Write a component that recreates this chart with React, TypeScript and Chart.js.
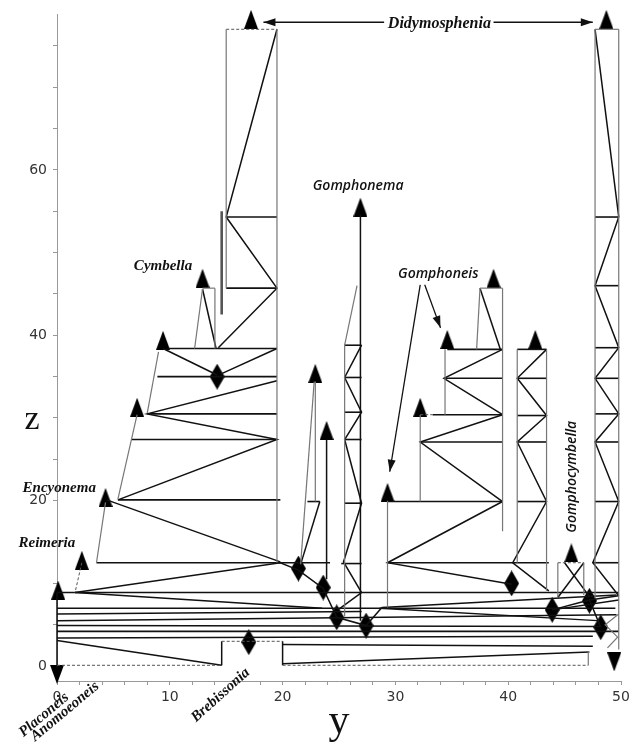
import React, { useEffect, useRef } from 'react';
import { Chart, registerables } from 'chart.js';

Chart.register(...registerables);

type P = [number, number];

// ---- axis ticks ----
const xLabelTicks = [0, 10, 20, 30, 40, 50];
const zLabelTicks = [0, 20, 40, 60];

// ---- horizontal bars: [z, xStart, xEnd] ----
const horizontalBars: [number, number, number][] = [
  // left Didymosphenia tower and Cymbella / Encyonema side
  [54.3, 15.0, 19.5], [45.7, 15.0, 19.5], [38.4, 9.8, 19.5], [35.0, 8.9, 19.5],
  [30.5, 8.0, 19.5], [27.4, 6.6, 19.5], [20.1, 5.4, 19.8], [12.5, 3.5, 24.2],
  // Gomphonema tower
  [38.8, 25.5, 27.0], [34.9, 25.5, 27.0], [30.7, 25.5, 27.0], [27.4, 25.5, 27.0],
  [19.7, 25.5, 27.0], [12.4, 25.2, 27.0], [19.9, 22.2, 23.3],
  // Gomphoneis
  [19.9, 29.3, 39.5], [12.5, 29.3, 43.6], [30.4, 33.3, 39.5], [27.1, 32.2, 39.5],
  [38.3, 34.6, 39.5], [34.8, 34.3, 39.5],
  // tower at 41-43
  [38.3, 40.8, 43.4], [34.8, 40.8, 43.4], [30.3, 40.8, 43.4], [27.1, 40.8, 43.4], [19.9, 40.8, 43.4],
  // right Didymosphenia tower
  [54.3, 47.7, 49.8], [46.0, 47.7, 49.8], [38.5, 47.7, 49.8], [34.8, 47.7, 49.8],
  [30.5, 47.7, 49.8], [27.1, 47.7, 49.8], [19.9, 47.7, 49.8], [12.5, 47.5, 49.8],
  // bottom bundle
  [8.9, 0, 49.8], [7.0, 0, 49.5], [4.2, 0, 49.8],
];

// ---- black polylines ----
const blackPaths: P[][] = [
  [[19.5, 77], [15.0, 54.3], [19.5, 45.7], [14.3, 38.5]],
  [[9.4, 38.4], [14.2, 35.2]],
  [[14.5, 35.3], [19.5, 38.4]],
  [[19.5, 34.5], [8.0, 30.5], [19.5, 27.4], [5.4, 20.1]],
  [[4.4, 20.1], [19.8, 12.6]],
  [[12.9, 45.6], [14.1, 38.4]],
  [[1.6, 8.9], [19.8, 12.5], [21.4, 11.6]],
  [[1.6, 8.9], [23.5, 7.0]],
  [[21.4, 11.6], [23.6, 9.4], [24.8, 5.9], [27.4, 4.9], [28.8, 7.1]],
  [[27.0, 38.8], [25.5, 34.9], [27.0, 30.7], [25.5, 27.4], [27.0, 19.7], [25.4, 12.6], [27.0, 8.9], [24.9, 6.8]],
  [[26.9, 54.6], [26.9, 5.5]],
  [[23.3, 19.9], [21.6, 12.3]],
  [[23.9, 27.4], [23.9, 10.5]],
  [[39.5, 19.9], [29.3, 12.5], [40.3, 9.9]],
  [[28.8, 7.1], [49.6, 8.6]],
  [[39.5, 30.4], [32.2, 27.1], [39.5, 19.9]],
  [[39.5, 38.3], [34.3, 34.8], [39.5, 30.4]],
  [[37.5, 45.7], [39.3, 38.3]],
  [[43.4, 38.3], [40.8, 34.8], [43.4, 30.3], [40.8, 27.1], [43.4, 19.9], [40.4, 12.5], [43.6, 9.1]],
  [[47.7, 77], [49.8, 54.3], [47.7, 46.0], [49.8, 38.5], [47.7, 34.8], [49.8, 30.5], [47.7, 27.1], [49.8, 19.9], [47.5, 12.5], [49.8, 8.5]],
  [[44.4, 8.3], [46.7, 12.5]],
  [[45.0, 12.5], [47.2, 8.4]],
  [[43.9, 6.8], [47.2, 8.0], [48.2, 4.7]],
  [[47.2, 8.0], [49.8, 8.5]],
  [[43.9, 6.8], [49.8, 8.0]],
  [[0, 5.5], [49.6, 6.2]],
  [[0, 4.9], [48.2, 4.8]],
  [[0, 3.4], [47.5, 3.6]],
  [[0, 3.1], [14.6, 0.1]],
  [[20, 2.6], [47.5, 2.4]],
  [[20, 0.3], [47.2, 1.7]],
  [[0, 6.3], [27.0, 6.6]],
  [[28.6, 7.0], [47.9, 5.5]],
  [[14.6, 0.1], [14.6, 3.0]],
  [[20, 3.0], [20, 0.1]],
  [[0, 8.9], [0, -0.2]],
];

// ---- thin grey polylines ----
const grayPaths: P[][] = [
  [[15.0, 77], [15.0, 45.7]],
  [[19.5, 77], [19.5, 12.5]],
  [[12.9, 45.6], [12.2, 38.4]],
  [[14.0, 45.7], [14.0, 38.4]],
  [[12.9, 45.7], [14.0, 45.7]],
  [[9.0, 38.0], [8.0, 30.6]],
  [[7.1, 30.4], [5.4, 20.2]],
  [[4.3, 19.8], [3.5, 12.5]],
  [[26.6, 46.0], [25.5, 38.8]],
  [[25.5, 38.8], [25.5, 6.0]],
  [[22.9, 34.4], [22.9, 19.9]],
  [[22.8, 34.4], [21.6, 12.3]],
  [[29.3, 20.0], [29.3, 7.1]],
  [[32.2, 30.4], [32.2, 19.9]],
  [[34.4, 38.3], [34.4, 30.4]],
  [[37.5, 45.7], [37.2, 38.3]],
  [[37.5, 45.7], [39.5, 45.7]],
  [[39.5, 45.7], [39.5, 16.3]],
  [[40.8, 38.3], [40.8, 12.5]],
  [[43.4, 38.3], [43.4, 9.1]],
  [[47.7, 77], [47.7, 8.2]],
  [[49.8, 77], [49.8, 2.0]],
  [[47.7, 77], [49.8, 77]],
  [[44.4, 12.5], [44.4, 8.3]],
  [[46.7, 12.5], [46.7, 8.6]],
  [[49.8, 6.3], [48.6, 5.0], [49.7, 3.5], [48.8, 2.2]],
  [[47.1, 0.1], [47.1, 1.8]],
];

const thickGrayPaths: P[][] = [
  [[14.6, 55.0], [14.6, 42.5]],
];

// ---- dashed polylines ----
const dashedPaths: P[][] = [
  [[15.0, 77], [19.5, 77]],
  [[2.2, 12.5], [1.6, 8.9]],
  [[0, 0.1], [14.6, 0.1]],
  [[14.6, 3.0], [20, 3.0]],
  [[20, 0.1], [47.1, 0.1]],
  [[44.4, 12.5], [46.7, 12.5]],
  [[32.2, 30.4], [33.3, 30.4]],
];

// ---- arrows (head at last point) ----
const arrowPaths: P[][] = [
  [[29.0, 77.85], [18.3, 77.85]],
  [[38.7, 77.85], [47.5, 77.85]],
  [[32.2, 46.1], [29.5, 23.5]],
  [[32.6, 46.1], [34.0, 40.9]],
];

// ---- markers ----
const upTriangles: P[] = [
  [17.2, 78.2], [48.7, 78.2], [12.9, 46.9], [9.4, 39.4], [7.1, 31.3], [4.3, 20.4],
  [2.2, 12.8], [0.1, 9.2], [26.9, 55.5], [22.9, 35.4], [23.9, 28.5], [29.3, 21.0],
  [32.2, 31.3], [34.6, 39.5], [38.7, 46.9], [42.4, 39.5], [45.6, 13.7],
];
const downTriangles: P[] = [[0.0, -1.0], [49.4, 0.5]];
const diamonds: P[] = [
  [14.2, 35.0], [21.4, 11.8], [23.6, 9.5], [24.8, 5.9], [27.4, 4.9], [17.0, 2.9],
  [40.3, 10.0], [43.9, 6.8], [47.2, 7.9], [48.2, 4.7],
];

// ---- genus labels ----
const genusNames = ['Didymosphenia', 'Gomphonema', 'Cymbella', 'Gomphoneis', 'Encyonema', 'Reimeria', 'Gomphocymbella', 'Placoneis', 'Anomoeoneis', 'Brebissonia'];
const genusAnchors: P[] = [[33.9, 77.7], [26.7, 58.0], [9.4, 48.4], [33.8, 47.4], [0.2, 21.5], [-0.9, 14.9], [45.7, 22.9], [-1.15, -5.9], [0.7, -5.5], [14.5, -3.5]];
const genusAngles = [0, 0, 0, 0, 0, 0, -90, -40, -40, -42];
const genusSans = [false, true, false, true, false, false, true, false, false, false];

function makeShape(kind: 'up' | 'down' | 'diamond'): HTMLCanvasElement {
  const c = document.createElement('canvas');
  const w = kind === 'diamond' ? 15 : 14;
  const h = kind === 'diamond' ? 26 : 19;
  c.width = w;
  c.height = h;
  const g = c.getContext('2d')!;
  g.fillStyle = '#000';
  g.beginPath();
  if (kind === 'up') {
    g.moveTo(w / 2, 0); g.lineTo(w, h); g.lineTo(0, h);
  } else if (kind === 'down') {
    g.moveTo(0, 0); g.lineTo(w, 0); g.lineTo(w / 2, h);
  } else {
    g.moveTo(w / 2, 0); g.lineTo(w, h / 2); g.lineTo(w / 2, h); g.lineTo(0, h / 2);
  }
  g.closePath();
  g.fill();
  return c;
}

function lineSet(pts: P[], color: string, width: number, dash: number[] = []) {
  return {
    data: pts.map(([x, y]) => ({ x, y })),
    showLine: true,
    borderColor: color,
    borderWidth: width,
    borderDash: dash,
    pointRadius: 0,
    pointHoverRadius: 0,
    fill: false,
    tension: 0,
    clip: false,
  };
}

export default function App() {
  const ref = useRef<HTMLCanvasElement>(null);

  useEffect(() => {
    const canvas = ref.current!;
    const upImg = makeShape('up');
    const downImg = makeShape('down');
    const diaImg = makeShape('diamond');

    const datasets: any[] = [];
    grayPaths.forEach((p) => datasets.push(lineSet(p, '#777', 1.2)));
    thickGrayPaths.forEach((p) => datasets.push(lineSet(p, '#555', 2.6)));
    dashedPaths.forEach((p) => datasets.push(lineSet(p, '#555', 1, [3, 2])));
    horizontalBars.forEach(([z, a, b]) => datasets.push(lineSet([[a, z], [b, z]], '#111', 1.6)));
    blackPaths.forEach((p) => datasets.push(lineSet(p, '#111', 1.5)));
    arrowPaths.forEach((p) => datasets.push(lineSet(p, '#111', 1.3)));
    const markerSet = (pts: P[], img: HTMLCanvasElement) => ({
      data: pts.map(([x, y]) => ({ x, y })),
      showLine: false,
      pointStyle: img,
      pointRadius: 8,
      pointHoverRadius: 8,
      clip: false,
    });
    datasets.push(markerSet(upTriangles, upImg));
    datasets.push(markerSet(downTriangles, downImg));
    datasets.push(markerSet(diamonds, diaImg));

    const annotate = {
      id: 'annotate',
      afterDatasetsDraw(chart: any) {
        const { ctx, chartArea } = chart;
        const xs = chart.scales.x;
        const ys = chart.scales.y;
        ctx.save();
        // arrow heads
        ctx.fillStyle = '#111';
        arrowPaths.forEach((p) => {
          const a = p[p.length - 2];
          const b = p[p.length - 1];
          const x1 = xs.getPixelForValue(a[0]);
          const y1 = ys.getPixelForValue(a[1]);
          const x2 = xs.getPixelForValue(b[0]);
          const y2 = ys.getPixelForValue(b[1]);
          const ang = Math.atan2(y2 - y1, x2 - x1);
          ctx.save();
          ctx.translate(x2, y2);
          ctx.rotate(ang);
          ctx.beginPath();
          ctx.moveTo(0, 0);
          ctx.lineTo(-12, -4);
          ctx.lineTo(-12, 4);
          ctx.closePath();
          ctx.fill();
          ctx.restore();
        });
        // genus labels
        genusNames.forEach((name, i) => {
          const px = xs.getPixelForValue(genusAnchors[i][0]);
          const py = ys.getPixelForValue(genusAnchors[i][1]);
          ctx.save();
          ctx.translate(px, py);
          ctx.rotate((genusAngles[i] * Math.PI) / 180);
          ctx.font = genusSans[i]
            ? 'italic 600 14px "Open Sans"'
            : (i === 0 ? 'italic bold 16px "Liberation Serif"' : 'italic bold 15px "Liberation Serif"');
          ctx.fillStyle = '#111';
          ctx.textAlign = 'center';
          ctx.textBaseline = 'middle';
          ctx.fillText(name, 0, 0);
          ctx.restore();
        });
        // axis titles
        ctx.fillStyle = '#111';
        ctx.textAlign = 'center';
        ctx.textBaseline = 'alphabetic';
        ctx.font = '34px "Liberation Serif"';
        ctx.fillText('z', chartArea.left - 25, chartArea.top + 415);
        ctx.font = '42px "Liberation Serif"';
        ctx.fillText('y', (chartArea.left + chartArea.right) / 2, chartArea.bottom + 52);
        ctx.restore();
      },
    };

    const chart = new Chart(canvas, {
      type: 'scatter',
      data: { datasets },
      options: {
        animation: false,
        responsive: true,
        maintainAspectRatio: false,
        events: [],
        layout: { padding: { top: 10, right: 15, left: 0, bottom: 0 } },
        plugins: { legend: { display: false }, tooltip: { enabled: false } },
        scales: {
          x: {
            type: 'linear',
            min: 0,
            max: 50,
            afterFit: (s: any) => { s.height = 65; },
            grid: { drawOnChartArea: false, drawTicks: true, tickLength: 4, color: '#999' },
            border: { display: true, color: '#999', width: 1 },
            ticks: {
              stepSize: 2,
              autoSkip: false,
              maxRotation: 0,
              includeBounds: false,
              padding: 4,
              color: '#333',
              font: { family: '"DejaVu Sans"', size: 14 },
              callback: (v: any) => (xLabelTicks.includes(Number(v)) ? String(v) : ''),
            },
          },
          y: {
            type: 'linear',
            min: -1.8,
            max: 78.8,
            afterFit: (s: any) => { s.width = 57; },
            grid: { drawOnChartArea: false, drawTicks: true, tickLength: 4, color: '#999' },
            border: { display: true, color: '#999', width: 1 },
            ticks: {
              stepSize: 5,
              autoSkip: false,
              includeBounds: false,
              padding: 6,
              color: '#333',
              font: { family: '"DejaVu Sans"', size: 14 },
              callback: (v: any) => (zLabelTicks.includes(Number(v)) ? String(v) : ''),
            },
          },
        },
      } as any,
      plugins: [annotate],
    });
    return () => chart.destroy();
  }, []);

  return (
    <div style={{ position: 'fixed', left: 0, top: 0, width: 636, height: 746, background: '#fff' }}>
      <canvas ref={ref} />
    </div>
  );
}
